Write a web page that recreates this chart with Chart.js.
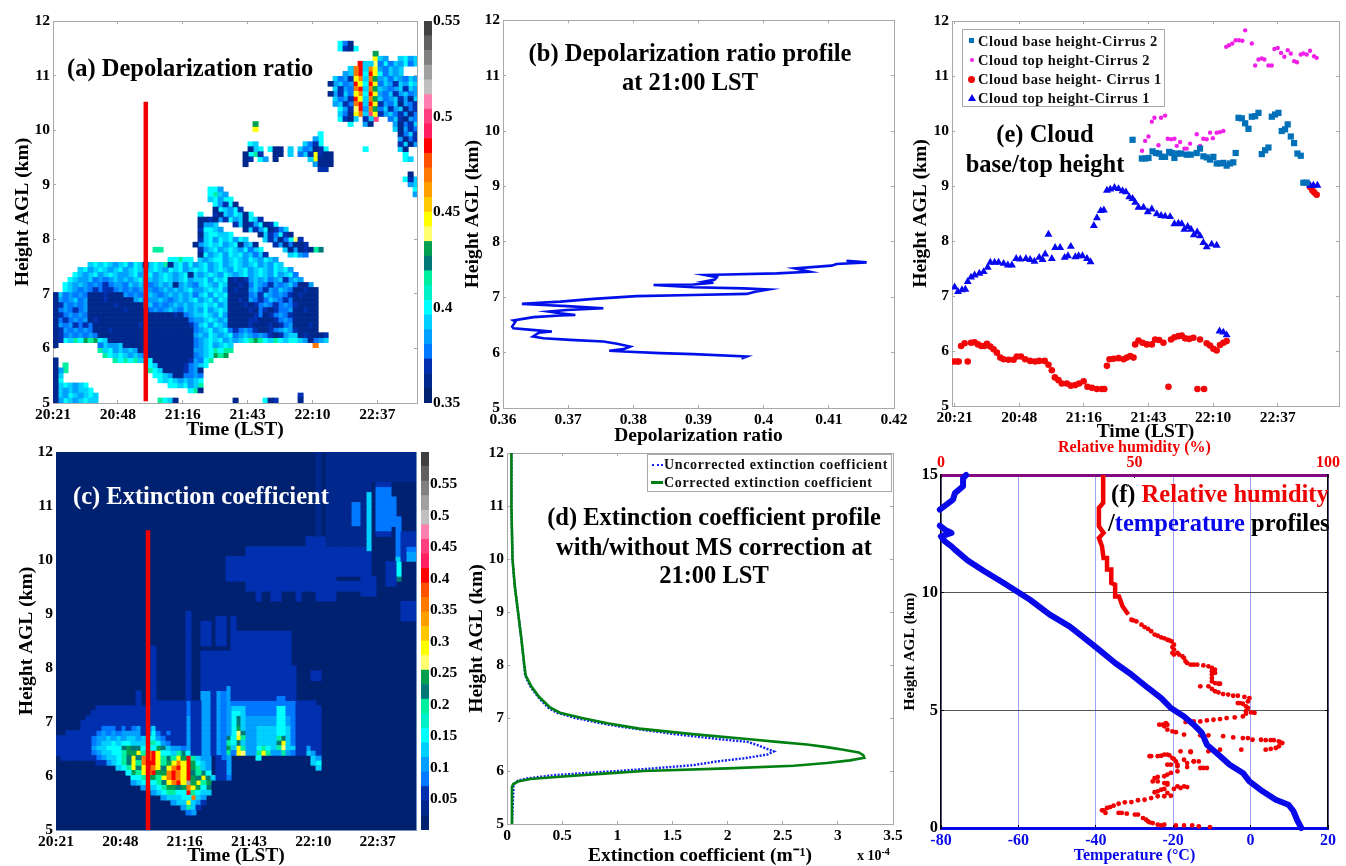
<!DOCTYPE html>
<html>
<head>
<meta charset="utf-8">
<title>Cirrus lidar panels</title>
<script src="https://cdn.jsdelivr.net/npm/chart.js@4/dist/chart.umd.min.js"></script>
<style>
html, body { margin: 0; padding: 0; background: #fff; }
#page { position: relative; width: 1346px; height: 866px; overflow: hidden; filter: blur(0.4px); font-family: "Liberation Serif", serif; font-weight: bold; }
canvas { position: absolute; }
.note { position: absolute; font-size: 24.5px; line-height: 1; white-space: nowrap; transform: translateY(-50%); color: #000; }
.mid { transform: translate(-50%, -50%); }
.legend { position: absolute; background: #fff; border: 1px solid #a8a8a8; box-sizing: border-box; color: #111; }
.legend div { position: absolute; white-space: nowrap; line-height: 1; transform: translateY(-50%); }
.legend i { position: absolute; display: block; }
</style>
</head>
<body>
<div id="page"></div>
<script>
// ---------- time axis shared by a, c, e (minutes after 20:21)
const timeTicks = [0, 27.2, 54.4, 81.6, 108.8, 136];
const timeLabels = ['20:21', '20:48', '21:16', '21:43', '22:10', '22:37'];
const heightTicks = [5, 6, 7, 8, 9, 10, 11, 12];

// ---------- colour bar, bottom to top
const levelColors = ['#002070', '#00288c', '#0030b0', '#0078ff', '#00a0ff', '#00d0ff', '#00ffff', '#00f0c8', '#00f0a0', '#007878', '#00a050', '#ffff70', '#ffff00', '#ffc800', '#ffa000', '#ff7800', '#ff5000', '#ff0000', '#ff2060', '#ff4080', '#ff80b0', '#c0c0c0', '#a0a0a0', '#808080', '#606060', '#404040'];
const depolBarTicks = [0.35, 0.4, 0.45, 0.5, 0.55];
const extBarTicks = [0.05, 0.1, 0.15, 0.2, 0.25, 0.3, 0.35, 0.4, 0.45, 0.5, 0.55];
// letter in the cell strings -> colour level
const codeLevels = { f: 1, 0: 1, 1: 2, 2: 3, 3: 4, 4: 5, 5: 6, 6: 8, 7: 9, 8: 10, 9: 11, y: 12, o: 15, r: 17, p: 19, g: 22 };

// ---------- (a) depolarization ratio cells: [row from 12 km down, first column, codes]
const depolCells = [
[4,57,"520"],[5,57,"5105"],[6,64,"8"],[7,64,"y"],[7,65,"43"],[7,69,"4534"],
[8,61,"r"],[8,62,"44"],[8,64,"9"],[8,65,"25243"],[8,70,"524"],
[9,59,"4or4oy32434"],[10,58,"34or5ry52434"],
[11,56,"4231yo4o834243243"],[12,55,"03423ry5ry24314354"],[13,56,"4132or4o843234143"],[14,55,"03142yo5ry32413423"],
[15,56,"4231ry4o842341304"],[16,56,"3412or4ry13240321"],[17,57,"5319r3o824134021"],[18,57,"420yo4py13421302"],
[19,57,"5104"],[19,62,"14p"],[19,67,"241032"],[20,59,"5"],[20,62,"30"],[20,68,"30214"],[20,40,"8"],[21,40,"y"],[21,68,"40312"],
[22,53,"5"],[22,69,"0241"],[23,52,"35"],[23,69,"3021"],[24,39,"54"],[24,50,"4215"],[24,69,"1403"],
[25,39,"04"],[25,41,"5"],[25,43,"50"],[25,45,"0"],[25,47,"4"],[25,49,"423015"],[25,62,"5"],[25,69,"40"],
[26,38,"0561"],[26,44,"0"],[26,45,"0"],[26,47,"4"],[26,49,"241y100"],[26,70,"5"],
[27,38,"01"],[27,41,"53"],[27,44,"0"],[27,51,"4y000"],[27,70,"54"],[28,38,"0"],[28,52,"3000"],[29,53,"11"],
[30,71,"0"],[31,70,"514"],[32,71,"34"],[33,72,"5"],[34,72,"3"],
[33,31,"553"],[34,31,"5643"],[35,31,"45355"],[36,32,"53150"],[37,32,"054351"],[38,29,"5"],[38,32,"10435405"],
[39,29,"0010"],[39,33,"315340541"],[40,29,"0334"],[40,36,"140135015"],[41,29,"15543"],[41,38,"041350124"],
[42,29,"0455445"],[42,41,"0412510"],[43,29,"1453545354"],[43,42,"41302591"],[44,28,"0345453450340"],[44,44,"1302001"],
[45,20,"66"],[45,29,"1345345435245"],[45,46,"403010"],[45,52,"67"],[46,29,"05345354534241"],[46,47,"4532"],
[47,23,"55655"],[47,29,"4345534543543543"],[48,7,"454543453540454604535345345345434534354"],
[49,5,"453454345345"],[49,17,"434543545345"],[49,29,"4534543545345435453"],
[50,4,"5434534543345"],[50,17,"345345434504"],[50,29,"34543543453454353452"],
[51,3,"5433423234"],[51,13,"3434534345434534"],[51,29,"453545"],[51,35,"0101"],[51,39,"34342341343"],
[52,2,"54343232123"],[52,13,"3243432343403432"],[52,29,"454354"],[52,35,"0010"],[52,39,"2432132342"],[52,49,"003"],
[53,2,"54323"],[53,7,"212112"],[53,13,"3232343234343453"],[53,29,"345453"],[53,35,"0100"],[53,39,"342132432"],[53,48,"00100"],
[54,0,"0423232"],[54,7,"0001000"],[54,14,"323234323434342"],[54,29,"453545"],[54,35,"0000"],[54,39,"231432321"],[54,48,"01000"],
[55,0,"0323423"],[55,7,"000100000"],[55,16,"3423343234345"],[55,29,"345354"],[55,35,"0010"],[55,39,"321243212"],[55,48,"00000"],
[56,0,"0132323"],[56,7,"00000100000"],[56,18,"34232343434"],[56,29,"454534"],[56,35,"0001"],[56,39,"012321232"],[56,48,"10000"],
[57,0,"0232123"],[57,7,"000000010000"],[57,19,"2323432434"],[57,29,"353454"],[57,35,"0000"],[57,39,"102101223"],[57,48,"00100"],
[58,0,"0123232"],[58,7,"0000000000000000010"],[58,26,"234"],[58,29,"454353"],[58,35,"0000"],[58,39,"012012321"],[58,48,"00000"],
[59,0,"0212323"],[59,7,"01000000000000000000"],[59,27,"23"],[59,29,"345434"],[59,35,"0000110001"],[59,45,"232"],[59,48,"00000"],
[60,0,"03231212"],[60,8,"0000000001000000000"],[60,27,"12"],[60,29,"453543"],[60,35,"0000100010"],[60,45,"123"],[60,48,"00010"],
[61,0,"01323232"],[61,8,"00010000000000000000"],[61,28,"2"],[61,29,"345345"],[61,35,"2123210012343"],[61,48,"10000"],
[62,0,"012323232"],[62,9,"0000000000000000000"],[62,28,"3"],[62,29,"4354345"],[62,36,"234323210134"],[62,48,"401000"],[62,54,"1"],
[63,0,"01546586854"],[63,11,"00000000000000000"],[63,28,"2"],[63,29,"3454534"],[63,36,"345686546545"],[63,48,"5430234"],
[64,0,"0"],[64,9,"24334"],[64,14,"00000000000000"],[64,28,"23"],[64,30,"453454"],[64,52,"o"],
[65,9,"6453434"],[65,16,"3"],[65,17,"00000000000"],[65,28,"3"],[65,29,"345656"],[65,35,"6"],
[66,10,"65454343"],[66,18,"2"],[66,19,"000000000"],[66,28,"234"],[66,31,"5868"],
[67,0,"0"],[67,12,"65656489"],[67,18,"45"],[67,20,"0000000"],[67,27,"132"],[67,30,"56"],
[68,0,"0"],[68,2,"6"],[68,19,"54"],[68,21,"00000"],[68,26,"1234"],[68,30,"5"],
[69,0,"03"],[69,2,"6"],[69,19,"654"],[69,22,"0000"],[69,26,"1230"],
[70,0,"04"],[70,20,"5543"],[70,24,"00"],[70,26,"2232"],
[71,0,"05"],[71,21,"5454"],[71,25,"3"],[71,26,"4345"],
[72,0,"0454345"],[72,23,"55"],[72,25,"45346"],
[73,0,"04343445"],[73,27,"560"],
[74,0,"043543454"],[74,49,"1"],
[75,0,"035434544"],[75,21,"6540"],[75,36,"0"],[75,42,"501"],[75,49,"0"]
];

// ---------- (c) extinction: broad blocks [rowFrom, rowTo, colFrom, colTo, code], then detail cells on top
const extBlocks = [
[0,5,54,71,'f'],[6,18,54,62,'f'],[0,28,52,52,'f'],[19,24,48,62,1],[17,18,50,53,1],[19,27,38,55,1],[21,25,34,37,1],[26,27,56,60,1],[25,28,61,63,1],
[28,29,40,40,1],[28,29,43,44,1],[28,29,48,48,1],[28,29,52,55,1],[6,16,64,66,1],[7,15,64,66,2],[10,14,59,60,2],[8,19,62,62,4],[20,25,62,62,1],
[9,14,67,67,2],[13,20,68,68,2],[21,24,68,68,4],[22,24,68,68,5],[25,25,68,68,7],[16,21,69,71,1],[19,21,70,71,2],[20,21,70,71,3],[30,33,69,71,1],[22,26,66,67,1],
[32,54,26,26,1],[34,38,29,30,1],[33,38,32,33,1],[33,50,35,35,1],[36,50,35,46,1],[40,50,29,46,1],[43,50,47,47,1],[44,45,51,52,1],[39,55,19,19,1],[48,50,16,16,1],
[51,51,8,19,1],[52,52,7,19,1],[53,53,6,19,1],[54,55,5,19,1],[56,56,2,19,1],[57,60,0,19,1],[61,61,1,14,1],[50,61,20,30,1],
[62,62,8,29,1],[63,63,12,30,1],[64,64,14,30,1],[65,65,15,30,1],[66,66,17,30,1],[67,67,19,30,1],[68,68,21,30,1],[69,69,22,29,1],[70,70,24,29,1],[71,71,25,28,1],
[50,57,47,51,1],[51,60,31,52,1],[60,65,32,33,1],[60,65,34,34,2],
[50,60,35,47,2],[51,59,35,37,4],[53,60,38,46,3],[55,59,40,46,4],[51,58,44,45,5],[52,58,35,36,5],[49,50,44,45,2],
[48,64,29,30,3],[48,60,32,32,3],[48,61,33,33,2],[47,64,34,34,3],[50,70,26,26,2],[53,62,26,26,3]
];
const extCells = [
[55,9,"22212"],[55,15,"23"],[55,18,"24"],[56,8,"2323233"],[56,15,"33"],[56,18,"35"],[56,20,"212"],
[57,7,"233434344345532"],[58,7,"2344545544466532"],[59,7,"3445557877565874332"],
[60,7,"2344556"],[60,14,"88y6ory554675"],[61,8,"234456"],[61,14,"7y7oory67"],[61,23,"6y8r643"],
[62,10,"34567"],[62,15,"y6orry68yoyr854"],[63,12,"456"],[63,15,"y7yroy7yoryr8643"],[64,14,"5"],[64,15,"86yor88oroyr7675"],
[65,15,"556886yoroyr87y74"],[66,15,"3455567yoryg8y68"],[67,17,"344568878oy857"],[68,19,"3456655r6544"],[69,21,"344455o43"],[70,23,"344y43"],[71,25,"364"],[72,26,"23"],
[53,36,"7"],[54,36,"7"],[55,36,"8"],[56,36,"9"],[56,37,"7"],[57,34,"7"],[57,36,"y"],[57,37,"6"],[58,34,"6"],[58,36,"7"],[59,34,"8"],[59,36,"y"],[59,37,"6"],[60,34,"6"],[60,36,"y"],[60,37,"9"],
[59,40,"565"],[60,40,"6y6"],[61,40,"5"],[57,44,"67"],[58,44,"7y"],[59,44,"69"],[60,45,"6"],
[59,47,"4"],[59,50,"3"],[60,50,"43"],[61,51,"43"],[62,51,"45"],[63,52,"4"]
];

// ---------- red marker at 21:00 LST
const markerMinutes = [38.9, 38.9];
const markerHeightsA = [10.52, 5.03];
const markerHeightsC = [10.55, 5.0];

// ---------- (b) depolarization profile
const depolProfileX = [0.3966,0.3974,0.3892,0.3841,0.3785,0.3763,0.3785,0.3795,0.3775,0.3754,0.3703,0.3662,0.3646,0.3655,0.3675,0.3644,0.3616,0.3614,0.3619,0.3616,0.3647,0.3688,0.3711,0.3688,0.3670,0.3698,0.3754,0.3698,0.3662,0.3629,0.3688,0.3739,0.3805,0.3892,0.3974,0.3987,0.4007,0.3969,0.3892,0.3831,0.3892,0.3923,0.3908,0.3925,0.3928,0.3910,0.3943,0.4020,0.4071,0.4048,0.4104,0.4112,0.4158,0.4127];
const depolProfileH = [5.895,5.931,5.973,5.99,6.02,6.033,6.063,6.11,6.16,6.20,6.23,6.26,6.29,6.36,6.38,6.41,6.44,6.47,6.56,6.58,6.64,6.67,6.68,6.71,6.74,6.77,6.80,6.84,6.86,6.88,6.92,6.97,7.02,7.04,7.06,7.10,7.14,7.16,7.18,7.22,7.23,7.26,7.28,7.32,7.36,7.40,7.41,7.43,7.46,7.52,7.57,7.60,7.63,7.66];
const depolTicks = [0.36, 0.37, 0.38, 0.39, 0.4, 0.41, 0.42];

// ---------- (d) extinction profiles, x in 1e-4 per metre
const corrH = [12,11,10,9.5,9,8.5,8,7.8,7.6,7.4,7.2,7.1,7,6.9,6.8,6.7,6.6,6.55,6.5,6.45,6.4,6.35,6.3,6.25,6.2,6.15,6.1,6.05,6,5.95,5.9,5.85,5.8,5.75,5.7,5];
const corrX = [0.04,0.04,0.05,0.07,0.10,0.13,0.157,0.17,0.22,0.29,0.39,0.48,0.68,0.91,1.2,1.66,2.2,2.45,2.72,2.9,3.05,3.19,3.23,3.24,3.11,2.9,2.6,2.0,1.24,0.88,0.54,0.21,0.1,0.055,0.045,0.045];
const uncorrH = [12,11,10,9.5,9,8.5,8,7.8,7.6,7.4,7.2,7.1,7,6.9,6.83,6.7,6.6,6.55,6.49,6.37,6.31,6.24,6.18,6.11,6.05,6,5.95,5.92,5.86,5.82,5.75,5];
const uncorrX = [0.04,0.04,0.05,0.07,0.10,0.13,0.155,0.165,0.21,0.28,0.37,0.45,0.62,0.85,1.05,1.5,1.93,2.18,2.27,2.42,2.36,2.15,1.9,1.69,1.33,1.0,0.63,0.42,0.18,0.1,0.06,0.045];
const extTicks = [0, 0.5, 1, 1.5, 2, 2.5, 3, 3.5];

// ---------- (e) cloud boundaries
const topC1T = [0,1.4,3.1,4.5,5.5,6.9,8.4,10.4,12.2,13.9,15,16.8,18.5,20.6,22.4,24.1,25.9,27.6,30,31.8,33.6,35.6,37,38.1,39.5,40.9,42.3,44.4,46.3,47.7,48.9,50.8,52.2,53.8,55.7,57.2,58.6,59.9,61.5,62.8,64.1,65.5,67.3,69,70.7,72.1,73.5,74.9,76,77.4,79.5,81.3,83,85.1,86.9,88.6,90.7,92.5,94.2,95.6,96.7,98.1,99.5,100.7,102.1,103.3,104.7,106.1,108.2,110.3,111.5,113.1,114.5,149.6,151,152.7];
const topC1H = [7.16,7.08,7.11,7.12,7.26,7.34,7.38,7.41,7.44,7.52,7.61,7.61,7.61,7.59,7.56,7.56,7.68,7.67,7.68,7.66,7.63,7.70,7.66,7.76,8.12,7.68,7.88,7.88,7.70,7.73,7.90,7.71,7.73,7.73,7.68,7.62,8.28,8.42,8.55,8.56,8.92,8.94,8.97,8.95,8.91,8.89,8.80,8.77,8.70,8.61,8.61,8.53,8.58,8.49,8.46,8.45,8.44,8.31,8.32,8.31,8.21,8.26,8.21,8.11,8.16,8.09,7.97,7.89,7.94,7.92,6.36,6.34,6.29,9.01,9.01,9.01];
const baseC1T = [-0.4,1,1.7,2.7,4.2,5.5,6.9,8.4,9.8,11.2,12.5,13.6,15,16.4,17.8,19.2,20.6,22.7,24.8,26.2,27.9,29.7,31.8,33.9,35.6,37.9,39.5,40.9,42.2,43.7,45.1,47.2,48.9,50.8,52.4,54.3,55.9,57.8,59.9,62,63,64.1,65.2,66.9,69,71.1,72.5,73.9,75.3,76,77.4,79.1,80.9,83,84.4,86.1,87.9,90,91.1,92.5,94.2,95.6,97,98.7,100.5,102.2,103.3,105,106.1,107.5,108.9,110.3,111.7,113.1,114.5,149.6,150.6,151.4,152.4];
const baseC1H = [5.81,5.81,5.81,6.09,6.14,5.81,6.15,6.16,6.12,6.09,6.09,6.13,6.08,6.03,5.97,5.88,5.85,5.84,5.84,5.90,5.90,5.85,5.82,5.81,5.82,5.82,5.75,5.65,5.52,5.47,5.41,5.41,5.37,5.38,5.41,5.45,5.35,5.33,5.31,5.31,5.31,5.73,5.85,5.86,5.87,5.85,5.88,5.91,5.88,6.12,6.19,6.15,6.12,6.12,6.21,6.20,6.15,5.35,6.21,6.25,6.27,6.28,6.23,6.22,6.24,5.31,6.21,5.31,6.14,6.10,6.04,6.01,6.11,6.15,6.18,8.98,8.92,8.88,8.84];
const baseC2T = [74.9,78.8,80.2,81.6,83.3,84.7,86.1,87.2,88.6,90.3,91.4,92.5,93.9,95.3,97.7,99.4,101.9,103.3,104.7,106.1,107.5,108.9,110.3,111.7,113.1,114.5,115.9,117.3,118.3,119.5,120.9,122.3,123.7,125.1,126.5,127.9,129.3,130.7,132.1,133.5,134.9,136.3,137.7,139.1,140.2,141.5,142.9,144.3,145.7,146.8,148.2];
const baseC2H = [9.84,9.50,9.50,9.51,9.63,9.60,9.59,9.53,9.53,9.62,9.60,9.51,9.59,9.59,9.57,9.57,9.60,9.68,9.54,9.52,9.48,9.53,9.41,9.41,9.42,9.37,9.41,9.43,9.60,10.24,10.23,10.14,10.04,10.26,10.27,10.33,9.58,9.65,9.70,10.26,10.30,10.33,10.0,10.03,10.12,9.90,9.78,9.59,9.55,9.06,9.06];
const topC2T = [74.9,78.9,80.2,81.6,83,84.1,85.8,86.9,88.6,89.7,91.1,92.5,93.5,94.9,96.7,97.7,99.1,101.9,103.3,104.7,106.1,107.5,108.7,110.3,111.7,113.1,114.3,115.5,116.9,118.3,119.7,121.1,122.3,125.1,126.5,127.9,129.3,130.4,132.1,133.5,134.6,136,137.4,138.8,140.2,141.5,142.9,144.1,145.7,146.8,148.2,149.6,151.3,152.4];
const topC2H = [9.84,9.64,9.82,9.90,10.17,10.24,9.74,10.24,10.28,9.86,9.85,9.86,9.73,9.80,9.68,9.68,9.77,9.94,9.73,9.86,9.85,9.97,9.87,9.97,9.98,10.0,11.53,11.56,11.59,11.65,11.65,11.64,11.83,11.59,11.19,11.30,11.32,11.30,11.19,11.19,11.49,11.51,11.42,11.35,11.47,11.41,11.27,11.25,11.39,11.41,11.39,11.46,11.36,11.33];

// ---------- (f) sounding
const tempC = [13.1,12,11.1,9.8,6.5,3.1,-0.3,-2,-5.4,-8.8,-11.3,-12.6,-14.7,-17.2,-20.6,-23.1,-26.5,-30.8,-35,-39.2,-43.5,-46.8,-51.9,-57,-63.8,-68.8,-73.1,-76.4,-77.3,-79,-80,-77.3,-79,-80.3,null,-80.3,-78.6,-76.9,-76.4,-74.3,-74.3,-73.5];
const tempH = [0,0.35,0.71,0.99,1.2,1.56,1.98,2.34,2.69,3.19,3.54,4.04,4.39,4.74,5.1,5.52,5.95,6.52,7.01,7.58,8.14,8.57,9.07,9.7,10.41,10.91,11.37,11.83,11.97,12.18,12.39,12.54,12.68,12.85,null,13.53,13.74,13.95,14.23,14.52,14.87,15];
const rhUpperVal = [41.9,41.9,40.8,40.8,42,40.8,41.6,42,42.9,42.9,44,44,45,45,46,46.9,48.4];
const rhUpperH = [15,13.81,13.6,12.82,12.54,12.32,11.97,11.47,11.47,10.98,10.98,10.41,10.34,9.84,9.84,9.42,9.07];
const rhLowerVal = [49.7,51.8,53.5,55.2,56.9,58.5,59.6,60.2,60.2,59.8,61.5,62.8,63.6,65.3,67.8,70,70.8,70,70,71.7,67,70.8,72.9,75.5,79.7,77.2,78.8,78.8,81,78,73.8,70.4,67,63.2,58.5,57.3,59.8,62.8,67,69.1,72.9,75.5,78,80.5,83.9,86,87.7,86.5,83.9,77.6,72.1,69.1,64.5,61.9,58.5,56.9,53.9,60.2,65.3,63.6,59.4,61.1,63.6,67.8,61.1,58.5,56,54.7,58.5,63.6,60.2,57.7,55.2,59.4,56,52.6,49.2,45.9,43.7,42,45.9,50.1,52.2,53.5,57.7,60.7,62.8,64.9,66.6,69.5,
    49.2,50.5,52.6,54.3,56,57.7,59,59.8,61.1,60.2,62.4,63.2,64.5,66.2,69.1,70,70.8,70,70.8,72.1,69.1,70,71.7,74.2,76.7,78.4,79.3,78,76.7,79.3,80.1,78.8,75.9,72.1,68.7,65.3,56.4,58.1,57.7,58.5,60.7,79.3,82.7,85.2,87.3,88.2,87.3,85.2,54.3,56,57.7,59,59.8,60.7,58.5,62.8,64.5,65.3,66.6,67,68.7,61.1,59.4,57.7,55.2,56,57.7,58.5,61.1,62.8,61.9,56,56.9,58.5,57.7,54.3,50.9,47.5,44.6,42.9,41.6,42.5,46.7,48,50.9,53,53.9,54.7,56,56.9];
const rhLowerH = [8.82,8.64,8.46,8.22,8.10,8.0,7.93,7.79,7.58,7.44,7.37,7.22,7.01,6.94,6.91,6.8,6.73,6.52,6.23,6.13,6.02,5.81,5.69,5.62,5.52,5.31,5.17,4.96,4.89,4.74,4.67,4.6,4.53,4.5,4.39,4.39,4.11,3.97,3.94,3.94,3.9,3.85,3.82,3.75,3.73,3.73,3.64,3.4,3.33,3.33,3.33,3.26,3.26,3.26,3.12,3.07,3.05,2.93,2.83,2.76,2.69,2.69,2.59,2.55,2.41,2.27,2.17,1.98,1.91,1.74,1.66,1.66,1.52,1.37,1.35,1.2,1.1,1.03,0.89,0.75,0.64,0.57,0.42,0.28,0.14,0.11,0.11,0.11,0.07,0.04,
    8.85,8.78,8.54,8.36,8.17,8.06,7.97,7.69,7.44,7.37,7.29,7.08,6.94,6.94,6.87,6.66,6.59,6.37,6.16,6.13,6.02,5.91,5.76,5.67,5.62,5.57,5.38,5.28,5.31,5.1,4.91,4.86,4.7,4.63,4.57,4.53,4.39,4.46,4.32,4.18,4.07,3.82,3.75,3.73,3.68,3.61,3.47,3.36,3.05,3.05,3.12,3.09,2.97,2.83,2.69,2.9,3.22,2.83,2.83,2.55,2.55,2.62,2.34,2.2,2.12,1.98,1.91,1.84,1.77,1.77,1.7,1.56,1.63,1.49,1.35,1.27,1.18,1.09,0.95,0.85,0.75,0.64,0.64,0.61,0.57,0.35,0.24,0.21,0.14,0.11];
const tempTicks = [-80, -60, -40, -20, 0, 20];
const rhTicks = [0, 50, 100];
const soundH = [0, 5, 10, 15];

// ---------- helpers
const SERIF = '"Liberation Serif", serif';
const GRAY = '#a8a8a8';
const page = document.getElementById('page');

function zip(xs, ys) { return xs.map((x, i) => ({ x: x, y: ys[i] })); }

function addCanvas(L, T, R, B) {
    const c = document.createElement('canvas');
    c.width = R - L; c.height = B - T;
    c.style.left = L + 'px'; c.style.top = T + 'px';
    page.appendChild(c);
    return c;
}

function side(position, min, max, ticks, o) {
    o = o || {};
    const horiz = position === 'top' || position === 'bottom';
    return {
        type: 'linear', position: position, min: min, max: max, offset: false,
        afterBuildTicks: s => { s.ticks = ticks.map(v => ({ value: v })); },
        afterFit: s => { if (horiz) s.height = o.box || 0; else s.width = o.box || 0; },
        grid: { offset: false, drawOnChartArea: !!o.gridColor, color: o.gridColor || GRAY, tickColor: o.tickColor || GRAY, tickLength: -3 },
        border: { color: o.lineColor || GRAY, width: o.lineWidth || 1 },
        ticks: {
            display: !!o.labels, autoSkip: false, maxRotation: 0, padding: 6,
            callback: (v, i) => o.labels ? o.labels[i] : '',
            color: o.labelColor || '#000',
            font: { family: SERIF, weight: 'bold', size: o.labelSize || 15.5 }
        },
        title: o.title ? { display: true, text: o.title, color: o.titleColor || '#000', padding: 0, font: { family: SERIF, weight: 'bold', size: o.titleSize || 19.5, lineHeight: 1 } } : { display: false }
    };
}

// box: canvas rect, plot: inner plot rect
function panel(box, plot, type, datasets, scales, extraPlugins) {
    const [L, T, R, B] = box;
    return new Chart(addCanvas(L, T, R, B), {
        type: type,
        data: { datasets: datasets },
        options: {
            responsive: false, animation: false, events: [],
            layout: { padding: { left: 0, bottom: 0, top: scales.xTop ? 0 : plot[1] - T, right: R - plot[2] } },
            plugins: { legend: { display: false }, tooltip: { enabled: false } },
            scales: scales
        },
        plugins: extraPlugins || []
    });
}

// turn the blocks and strings into one floating bar dataset per colour
function cellDatasets(blocks, cells, step, rowKm) {
    const grid = {};
    blocks.forEach(b => {
        for (let r = b[0]; r <= b[1]; r++) for (let c = b[2]; c <= b[3]; c++) grid[r + '_' + c] = String(b[4]);
    });
    cells.forEach(s => {
        for (let i = 0; i < s[2].length; i++) grid[s[0] + '_' + (s[1] + i)] = s[2][i];
    });
    const byLevel = {};
    Object.keys(grid).forEach(k => {
        const [r, c] = k.split('_').map(Number);
        const lev = codeLevels[grid[k]];
        (byLevel[lev] = byLevel[lev] || []).push({ x: (c + 0.5) * step, y: [12 - (r + 1) * rowKm, 12 - r * rowKm] });
    });
    return Object.keys(byLevel).map(lev => ({
        type: 'bar', data: byLevel[lev], backgroundColor: levelColors[lev], borderWidth: 0,
        grouped: false, barThickness: 5.4, inflateAmount: 0.3, order: 2
    }));
}

function markerLine(ys) {
    return { type: 'line', data: zip(markerMinutes, ys), borderColor: '#f00000', borderWidth: 4.5, pointRadius: 0, order: 0 };
}

function colorBar(box, plot, lo, hi, ticks, decimals) {
    const step = (hi - lo) / levelColors.length;
    const ds = levelColors.map((c, i) => ({ data: [[lo + i * step, lo + (i + 1) * step]], backgroundColor: c, grouped: false, barPercentage: 1, categoryPercentage: 1, inflateAmount: 0.3 }));
    const y = side('right', lo, hi, ticks, { box: box[2] - plot[2], labels: ticks.map(String), lineColor: 'rgba(0,0,0,0)', tickColor: '#555' });
    y.ticks.padding = 1;
    y.grid.drawTicks = false;
    const [L, T, R, B] = box;
    return new Chart(addCanvas(L, T, R, B), {
        type: 'bar',
        data: { labels: [''], datasets: ds },
        options: {
            responsive: false, animation: false, events: [],
            layout: { padding: { left: 0, right: 0, top: plot[1] - T, bottom: B - plot[3] } },
            plugins: { legend: { display: false }, tooltip: { enabled: false } },
            scales: { x: { display: false }, y: y }
        }
    });
}

const navyFill = {
    id: 'navyFill',
    beforeDatasetsDraw(chart) {
        const a = chart.chartArea;
        chart.ctx.fillStyle = levelColors[0];
        chart.ctx.fillRect(a.left, a.top, a.right - a.left, a.bottom - a.top);
    }
};

// ---------- (a)
panel([13, 5, 440, 440], [53, 21, 417, 403], 'bar',
    cellDatasets([], depolCells, 2.097, 7 / 76).concat(markerLine(markerHeightsA)), {
    x: side('bottom', 0, 152.6, timeTicks, { box: 37, labels: timeLabels, title: 'Time (LST)' }),
    y: side('left', 5, 12, heightTicks, { box: 40, labels: heightTicks.map(String), title: 'Height AGL (km)' }),
    x2: side('top', 0, 152.6, timeTicks),
    y2: side('right', 5, 12, heightTicks)
});
colorBar([424, 5, 466, 420], [424, 21, 432, 403], 0.35, 0.55, depolBarTicks);

// ---------- (b)
panel([463, 5, 914, 446], [503, 20, 894, 408], 'scatter', [
    { data: zip(depolProfileX, depolProfileH), showLine: true, borderColor: '#0010e8', borderWidth: 2.6, pointRadius: 0 }
], {
    x: side('bottom', 0.36, 0.42, depolTicks, { box: 38, labels: ['0.36', '0.37', '0.38', '0.39', '0.4', '0.41', '0.42'], title: 'Depolarization ratio' }),
    y: side('left', 5, 12, heightTicks, { box: 40, labels: heightTicks.map(String), title: 'Height AGL (km)' }),
    x2: side('top', 0.36, 0.42, depolTicks),
    y2: side('right', 5, 12, heightTicks)
});

// ---------- (c)
panel([17, 436, 440, 866], [56, 452, 416, 830], 'bar',
    cellDatasets(extBlocks, extCells, 2.114, 7 / 76).concat(markerLine(markerHeightsC)), {
    x: side('bottom', 0, 152.2, timeTicks, { box: 36, labels: timeLabels, title: 'Time (LST)', lineColor: '#7090c0' }),
    y: side('left', 5, 12, heightTicks, { box: 39, labels: heightTicks.map(String), title: 'Height AGL (km)', lineColor: '#7090c0' }),
    x2: side('top', 0, 152.2, timeTicks, { lineColor: '#7090c0' }),
    y2: side('right', 5, 12, heightTicks, { lineColor: '#7090c0' })
}, [navyFill]);
colorBar([421, 436, 462, 846], [421, 452, 429, 830], 0.001, 0.601, extBarTicks);

// ---------- (d)
panel([467, 437, 912, 866], [507, 453, 893, 824], 'scatter', [
    { label: 'Corrected extinction coefficient', data: zip(corrX, corrH), showLine: true, borderColor: '#008010', borderWidth: 2.6, pointRadius: 0, order: 0 },
    { label: 'Uncorrected extinction coefficient', data: zip(uncorrX, uncorrH), showLine: true, borderColor: '#1020f0', borderWidth: 2.4, borderDash: [2, 1.5], pointRadius: 0, order: 1 }
], {
    x: side('bottom', 0, 3.5, extTicks, { box: 42, labels: extTicks.map(String), title: 'Extinction coefficient (m\u207B\u00B9)' }),
    y: side('left', 5, 12, heightTicks, { box: 40, labels: heightTicks.map(String), title: 'Height AGL (km)' }),
    x2: side('top', 0, 3.5, extTicks),
    y2: side('right', 5, 12, heightTicks)
});

// ---------- (e)
panel([911, 5, 1346, 442], [952, 21, 1339, 406], 'scatter', [
    { data: zip(baseC2T, baseC2H), backgroundColor: '#0070b8', pointStyle: 'rect', pointRadius: 4.4, borderWidth: 0, order: 0 },
    { data: zip(topC2T, topC2H), backgroundColor: '#f020e8', pointStyle: 'circle', pointRadius: 2.2, borderWidth: 0, order: 1 },
    { data: zip(topC1T, topC1H), backgroundColor: '#0808f0', pointStyle: 'triangle', pointRadius: 4.6, borderWidth: 0, order: 2 },
    { data: zip(baseC1T, baseC1H), backgroundColor: '#f00808', pointStyle: 'circle', pointRadius: 3.3, borderWidth: 0, order: 3 }
], {
    x: side('bottom', -1.12, 161.8, timeTicks, { box: 36, labels: timeLabels, title: 'Time (LST)' }),
    y: side('left', 5, 12, heightTicks, { box: 41, labels: heightTicks.map(String), title: 'Height AGL (km)' }),
    x2: side('top', -1.12, 161.8, timeTicks),
    y2: side('right', 5, 12, heightTicks)
});

// ---------- (f)
const BLUE = '#0808e8';
panel([902, 440, 1346, 864], [941, 475, 1335, 828], 'scatter', [
    { data: zip(tempC, tempH), showLine: true, spanGaps: false, xAxisID: 'x', borderColor: BLUE, borderWidth: 6, pointRadius: 0, borderCapStyle: 'round', borderJoinStyle: 'round', clip: false, order: 0 },
    { data: zip(rhUpperVal, rhUpperH), showLine: true, xAxisID: 'xTop', borderColor: '#f00000', borderWidth: 4.5, pointRadius: 0, order: 1 },
    { data: zip(rhLowerVal, rhLowerH), xAxisID: 'xTop', backgroundColor: '#f00000', pointRadius: 2.4, borderWidth: 0, clip: false, order: 2 }
], {
    x: side('bottom', -80, 20, tempTicks, { box: 36, labels: tempTicks.map(String), labelColor: BLUE, labelSize: 16, title: 'Temperature (\u00B0C)', titleColor: BLUE, titleSize: 16, gridColor: '#a0a0ff', tickColor: '#000', lineColor: BLUE, lineWidth: 3 }),
    xTop: side('top', 0, 100, rhTicks, { box: 35, labels: rhTicks.map(String), labelColor: '#f00000', labelSize: 16, title: 'Relative humidity (%)', titleColor: '#f00000', titleSize: 16, tickColor: '#000', lineColor: '#800880', lineWidth: 3 }),
    y: side('left', 0, 15, soundH, { box: 39, labels: soundH.map(String), labelSize: 16.5, title: 'Height AGL (km)', titleSize: 15.5, gridColor: '#555', tickColor: '#000', lineColor: '#000', lineWidth: 1.5 }),
    y2: side('right', 0, 15, soundH, { tickColor: '#000', lineColor: '#000', lineWidth: 1.5 })
});

// ---------- panel titles
function note(html, x, y, cfg) {
    const d = document.createElement('div');
    d.className = 'note' + (cfg && cfg.mid ? ' mid' : '');
    d.innerHTML = html;
    d.style.left = x + 'px'; d.style.top = y + 'px';
    if (cfg && cfg.color) d.style.color = cfg.color;
    if (cfg && cfg.size) d.style.fontSize = cfg.size + 'px';
    page.appendChild(d);
}
note('(a) Depolarization ratio', 67, 68);
note('(b) Depolarization ratio profile', 690, 53, { mid: true });
note('at 21:00 LST', 690, 82, { mid: true });
note('(c) Extinction coefficient', 73, 496, { color: '#fff' });
note('(d) Extinction coefficient profile', 714, 517, { mid: true });
note('with/without MS correction at', 714, 547, { mid: true });
note('21:00 LST', 714, 575, { mid: true });
note('(e) Cloud', 1045, 134, { mid: true });
note('base/top height', 1045, 164, { mid: true });
note('(f) <span style="color:#f00000">Relative humidity</span>', 1111, 494);
note('/<span style="color:#0808e8">temperature</span> profiles', 1108, 523);
note('x 10<sup style="font-size:10px">-4</sup>', 857, 855, { size: 14 });

// ---------- legends
function legend(x, y, w, h, entries, size, spacing) {
    const box = document.createElement('div');
    box.className = 'legend';
    box.style.cssText = `left:${x}px;top:${y}px;width:${w}px;height:${h}px`;
    entries.forEach(e => {
        const t = document.createElement('div');
        t.textContent = e.label;
        t.style.cssText = `left:${e.textX}px;top:${e.y}px;font-size:${size}px;letter-spacing:${spacing}px`;
        box.appendChild(t);
        const m = document.createElement('i');
        m.style.cssText = e.mark + `;left:${e.markX}px;top:${e.markY}px`;
        box.appendChild(m);
    });
    page.appendChild(box);
}
legend(962, 29, 203, 78, [
    { label: 'Cloud base height-Cirrus 2', textX: 15, y: 11, markX: 6, markY: 8, mark: 'width:5px;height:5px;background:#0070b8' },
    { label: 'Cloud top height-Cirrus 2', textX: 15, y: 30, markX: 6.5, markY: 27.5, mark: 'width:4px;height:4px;border-radius:50%;background:#f020e8' },
    { label: 'Cloud base height- Cirrus 1', textX: 15, y: 49, markX: 5, markY: 45.5, mark: 'width:7px;height:7px;border-radius:50%;background:#f00808' },
    { label: 'Cloud top height-Cirrus 1', textX: 15, y: 68, markX: 5, markY: 64, mark: 'width:0;height:0;border-left:4px solid transparent;border-right:4px solid transparent;border-bottom:7px solid #0808f0' }
], 14.5, 0.45);
legend(647, 454, 245, 38, [
    { label: 'Uncorrected extinction coefficient', textX: 16, y: 10, markX: 4, markY: 8.5, mark: 'width:11px;height:0;border-top:2.5px dotted #1020f0' },
    { label: 'Corrected extinction coefficient', textX: 16, y: 28, markX: 3, markY: 26, mark: 'width:12px;height:2.5px;background:#008010' }
], 14, 0.65);
</script>
</body>
</html>
